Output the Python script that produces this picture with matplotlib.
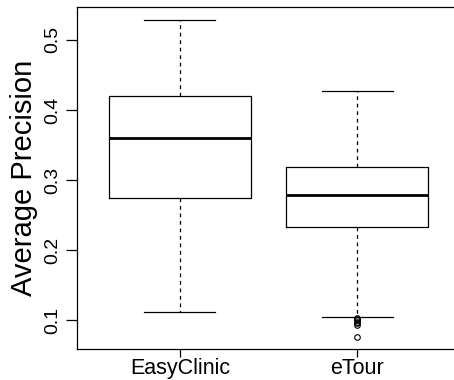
import matplotlib
matplotlib.use('Agg')
import matplotlib.pyplot as plt

# boxplot summary
labels = ['EasyClinic', 'eTour']
whislo = [0.111, 0.105]
q1 = [0.274, 0.233]
med = [0.360, 0.279]
q3 = [0.420, 0.318]
whishi = [0.528, 0.427]
fliers = [[], [0.1035, 0.1015, 0.0995, 0.0975, 0.0955, 0.0935, 0.0755]]

plt.rcParams['font.family'] = ['Liberation Sans', 'DejaVu Sans']

fig = plt.figure(figsize=(4.54, 3.8), dpi=100)
# plot region runs past the right edge, like the original
ax = fig.add_axes([77 / 454, 1 - 349 / 380, (460 - 77) / 454, (349 - 7) / 380])

stats = []
for i in range(len(labels)):
    stats.append(dict(label=labels[i], whislo=whislo[i], q1=q1[i], med=med[i],
                      q3=q3[i], whishi=whishi[i], fliers=fliers[i]))

ax.bxp(stats, positions=[1, 2], widths=0.8, showfliers=True,
       boxprops=dict(color='black', linewidth=0.9),
       medianprops=dict(color='black', linewidth=2.0),
       whiskerprops=dict(color='black', linewidth=0.9, linestyle=(0, (3, 3))),
       capprops=dict(color='black', linewidth=0.9),
       capwidths=0.4,
       flierprops=dict(marker='o', markerfacecolor='none', markeredgecolor='black',
                       markersize=4, markeredgewidth=0.8))

ax.set_xlim(0.42, 2.58)
ax.set_ylim(0.0586, 0.547)
ax.set_yticks([0.1, 0.2, 0.3, 0.4, 0.5])
ax.set_yticklabels(['0.1', '0.2', '0.3', '0.4', '0.5'], rotation=90, va='center')
ax.set_xticks([1, 2])
ax.set_xticklabels(labels)
ax.tick_params(axis='y', labelsize=14, length=8, width=0.9, pad=3)
ax.tick_params(axis='x', labelsize=15.5, length=6, width=0.9, pad=0.5)
ax.set_ylabel('Average Precision', fontsize=21, labelpad=5)
for s in ax.spines.values():
    s.set_linewidth(0.9)

fig.savefig('out.png', dpi=100)
